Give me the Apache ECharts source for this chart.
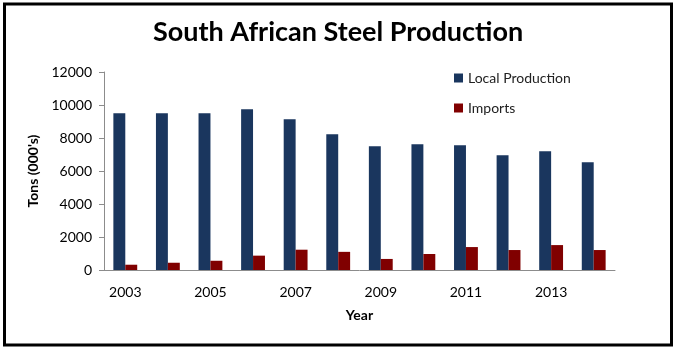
<!DOCTYPE html>
<html>
<head>
<meta charset="utf-8">
<script src="https://cdn.jsdelivr.net/npm/echarts@6/dist/echarts.min.js"></script>
<style>
  html, body { margin: 0; padding: 0; background: #fff; }
  #chart { width: 676px; height: 350px; }
</style>
</head>
<body>
<div id="chart"></div>
<script>
var years = ["2003", "2004", "2005", "2006", "2007", "2008", "2009", "2010", "2011", "2012", "2013", "2014"];
var localProduction = [9500, 9500, 9500, 9740, 9130, 8230, 7500, 7620, 7560, 6960, 7200, 6530];
var imports = [320, 440, 560, 870, 1230, 1100, 670, 970, 1390, 1210, 1510, 1210];

var FONT = "Lato";

function init_steel_chart(container) {
  var myChart = echarts.init(document.getElementById(container));
  var option;

  option = {
    animation: false,
    textStyle: { fontFamily: FONT },
    title: {
      text: "South African Steel Production",
      left: "center",
      top: 14,
      textStyle: {
        color: "#000",
        fontSize: 27,
        fontWeight: "bold",
        fontFamily: FONT,
      },
    },
    legend: {
      orient: "vertical",
      left: 449,
      top: 66,
      itemWidth: 9,
      itemHeight: 9,
      itemGap: 16,
      icon: "rect",
      textStyle: { color: "#222", fontSize: 14, fontFamily: FONT },
      data: ["Local Production", "Imports"],
    },
    grid: {
      left: 104,
      right: 61,
      top: 72,
      bottom: 80,
    },
    xAxis: {
      type: "category",
      data: years,
      name: "Year",
      nameLocation: "middle",
      nameGap: 38,
      nameTextStyle: { color: "#000", fontSize: 14, fontWeight: "bold", fontFamily: FONT },
      axisTick: { show: false },
      axisLine: { lineStyle: { color: "#8c8c8c", width: 1 } },
      axisLabel: {
        interval: 1,
        color: "#000",
        fontSize: 14,
        margin: 15,
        fontFamily: FONT,
      },
    },
    yAxis: {
      type: "value",
      min: 0,
      max: 12000,
      interval: 2000,
      name: "Tons (000's)",
      nameLocation: "middle",
      nameGap: 56,
      nameTextStyle: { color: "#000", fontSize: 14, fontWeight: "bold", fontFamily: FONT },
      axisLine: { show: true, lineStyle: { color: "#8c8c8c", width: 1 } },
      axisTick: { show: true, length: 5, lineStyle: { color: "#8c8c8c" } },
      splitLine: { show: false },
      axisLabel: {
        color: "#000",
        fontSize: 14,
        margin: 12,
        fontFamily: FONT,
        formatter: function (v) { return String(v); },
      },
    },
    graphic: [
      {
        type: "rect",
        shape: { x: 4.5, y: 4, width: 667, height: 341 },
        style: { fill: "none", stroke: "#000", lineWidth: 3 },
        silent: true,
      },
    ],
    series: [
      {
        name: "Local Production",
        type: "bar",
        data: localProduction,
        barGap: "0%",
        barCategoryGap: "44%",
        itemStyle: { color: "#1a365e" },
      },
      {
        name: "Imports",
        type: "bar",
        data: imports,
        barGap: "0%",
        barCategoryGap: "44%",
        itemStyle: { color: "#800000" },
      },
    ],
  };

  option && myChart.setOption(option);
}

init_steel_chart("chart");
</script>
</body>
</html>
